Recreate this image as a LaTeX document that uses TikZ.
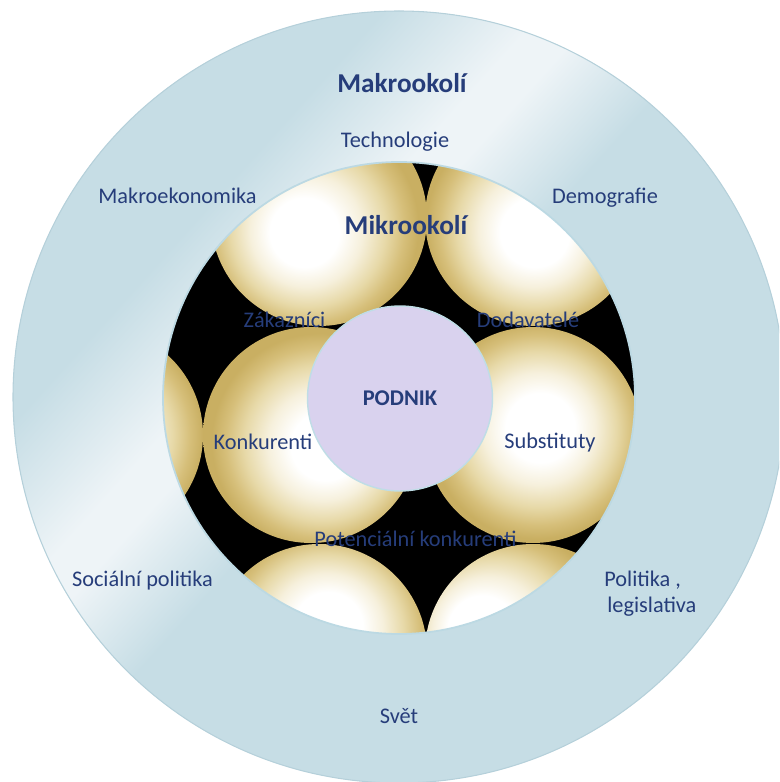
\documentclass[tikz,border=0pt]{standalone}
\usepackage{fontspec}
\setmainfont{Carlito}
\usetikzlibrary{positioning}
\definecolor{ringblue}{HTML}{C6DDE5}
\definecolor{ringlight}{HTML}{EEF4F7}
\definecolor{ringedge}{HTML}{B5D0DA}
\definecolor{innerrim}{HTML}{BCD9E3}
\definecolor{goldpale}{HTML}{F6F0DC}
\definecolor{goldmid}{HTML}{E7D9A8}
\definecolor{goldfull}{HTML}{D6BF7A}
\definecolor{golddeep}{HTML}{C9AF62}
\definecolor{podnikfill}{HTML}{D9D2EE}
\definecolor{podnikrim}{HTML}{BFDDE6}
\definecolor{labelcol}{HTML}{263D7A}

% gold ball, highlight moved by (#2,#3)
\newcommand{\goldshading}[3]{%
  \pgfdeclareradialshading{#1}{\pgfpoint{#2}{#3}}{%
    color(0bp)=(white); color(8bp)=(white); color(13bp)=(goldpale);
    color(18bp)=(goldmid); color(22bp)=(goldfull); color(25bp)=(golddeep);
    color(50bp)=(golddeep)}}
\goldshading{ballTL}{-4bp}{-4bp}
\goldshading{ballTR}{0.5bp}{-4bp}
\goldshading{ballFL}{0bp}{0bp}
\goldshading{ballML}{4bp}{-3bp}
\goldshading{ballMR}{2bp}{2bp}
\goldshading{ballBL}{2.5bp}{7bp}
\goldshading{ballBR}{-14bp}{6bp}

\begin{document}
\begin{tikzpicture}[x=0.02cm,y=0.02cm,
  lbl/.style={text=labelcol,font=\fontsize{12.7}{15}\selectfont,inner sep=0pt,anchor=base},
  head/.style={lbl,font=\fontsize{15.5}{18}\selectfont\bfseries},
  ball/.style={shading=#1},
]
\clip (0,0) rectangle (779,782);

% outer ring (Makrookoli) with a light diagonal band
\begin{scope}
  \clip (399,385) circle[radius=386];
  \fill[ringblue] (0,0) rectangle (800,800);
  \begin{scope}[transform canvas={shift={(399,385)},rotate=-42}]
    \shade[left color=ringblue,right color=ringlight] (-270,-420) rectangle (-150,420);
    \fill[ringlight] (-151,-420) rectangle (-109,420);
    \shade[left color=ringlight,right color=ringblue] (-110,-420) rectangle (-10,420);
  \end{scope}
\end{scope}
\draw[ringedge,line width=0.6pt] (399,385) circle[radius=386];

% inner disc with the gold balls
\fill[black] (399,384) circle[radius=236];
\begin{scope}
  \clip (399,384) circle[radius=236];
  \shade[ball=ballTL] (319,564) circle[radius=108];
  \shade[ball=ballTR] (533,564) circle[radius=108];
  \shade[ball=ballFL] (95,347) circle[radius=108];
  \shade[ball=ballML] (311,347) circle[radius=108];
  \shade[ball=ballMR] (533,347) circle[radius=108];
  \shade[ball=ballBL] (319,130) circle[radius=108];
  \shade[ball=ballBR] (533,130) circle[radius=108];
\end{scope}
\draw[innerrim,line width=1pt] (399,384) circle[radius=236];

\node[circle,fill=podnikfill,draw=podnikrim,line width=0.8pt,minimum size=3.7cm,
      inner sep=0pt,text=labelcol,font=\fontsize{12.8}{15}\selectfont\bfseries]
  (podnik) at (400,383.5) {PODNIK};

% labels
\node[head] (makro) at (402,689) {Makrookolí};
\node[lbl] (tech) at (395,634) {Technologie};
\node[lbl] (makroek) at (177.5,578) {Makroekonomika};
\node[lbl] (demo) at (605,578) {Demografie};
\node[head] (mikro) at (406,547) {Mikrookolí};
\node[lbl] (zak) at (284.5,454) {Zákazníci};
\node[lbl] (dod) at (528,454) {Dodavatelé};
\node[lbl] (konk) at (263,332) {Konkurenti};
\node[lbl] (subst) at (550,333) {Substituty};
\node[lbl] (potkonk) at (415.5,235) {Potenciální konkurenti};
\node[lbl] (social) at (142.5,195) {Sociální politika};
\node[lbl,anchor=base west] (polit) at (604,195) {Politika ,};
\node[lbl,anchor=base west] (legis) at (607,169) {legislativa};
\node[lbl] (svet) at (399,58) {Svět};
\end{tikzpicture}
\end{document}
